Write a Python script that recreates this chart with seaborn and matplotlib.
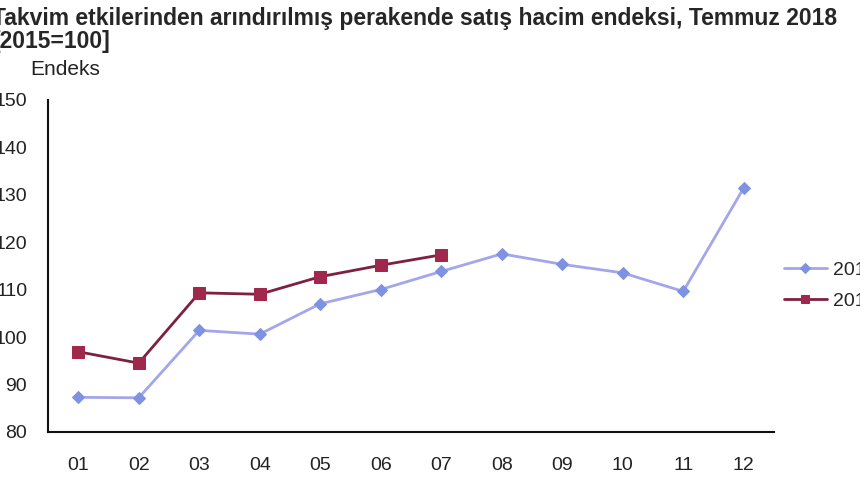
import matplotlib
matplotlib.use("Agg")
import matplotlib.pyplot as plt
import numpy as np
import pandas as pd
import seaborn as sns

months = ['01', '02', '03', '04', '05', '06', '07', '08', '09', '10', '11', '12']
values_2017 = [87.3, 87.2, 101.4, 100.6, 107.0, 110.0, 113.8, 117.5, 115.3, 113.5, 109.6, 131.4]
values_2018 = [96.9, 94.5, 109.3, 109.0, 112.7, 115.1, 117.3]

df = pd.concat([
    pd.DataFrame({'Ay': months, 'Endeks': values_2017, 'Yil': '2017'}),
    pd.DataFrame({'Ay': months[:len(values_2018)], 'Endeks': values_2018, 'Yil': '2018'}),
])

sns.set_style("white")
plt.rcParams['font.family'] = ['Liberation Sans', 'DejaVu Sans']

fig = plt.figure(figsize=(8.6, 4.8), dpi=100)
ax = fig.add_axes([0.0558, 0.1, 0.9 - 0.0558, 0.6927])

sns.lineplot(data=df[df.Yil == '2017'], x='Ay', y='Endeks', ax=ax, color='#A3A6EA',
             marker='D', markersize=6, markerfacecolor='#7F92E2', markeredgecolor='#7F92E2',
             linewidth=2, label='2017', sort=False)
sns.lineplot(data=df[df.Yil == '2018'], x='Ay', y='Endeks', ax=ax, color='#7E2140',
             marker='s', markersize=8, markerfacecolor='#A0284D', markeredgecolor='#A0284D',
             linewidth=2, label='2018', sort=False)

ax.set_xlim(-0.5, 11.5)
ax.set_ylim(80, 150)
ax.set_yticks(range(80, 151, 10))
ax.set_xticks(range(len(months)))
ax.set_xticklabels(months)
ax.set_xticks(np.arange(-0.5, 12, 1), minor=True)
ax.tick_params(axis='x', which='major', length=0, pad=18, labelsize=14, colors='#222222')
ax.tick_params(axis='x', which='minor', length=6, width=1.3, direction='out', color='#111111')
ax.tick_params(axis='y', length=6, width=1.3, direction='out', labelsize=14,
               colors='#222222', pad=9)
ax.tick_params(axis='y', color='#111111')
ax.set_xlabel('')
ax.set_ylabel('')
for s in ['top', 'right']:
    ax.spines[s].set_visible(False)
for s in ['left', 'bottom']:
    ax.spines[s].set_color('#111111')
    ax.spines[s].set_linewidth(1.5)

fig.text(-0.009, 0.948, 'Takvim etkilerinden arındırılmış perakende satış hacim endeksi, Temmuz 2018',
         fontsize=16.5, fontweight='bold', va='baseline', ha='left')
fig.text(-0.009, 0.9, '[2015=100]', fontsize=16.5, fontweight='bold', va='baseline', ha='left')
fig.text(0.035, 0.844, 'Endeks', fontsize=15, color='#222222', va='baseline', ha='left')

ax.legend(loc='center left', bbox_to_anchor=(0.9, 0.405), bbox_transform=fig.transFigure,
          frameon=False, fontsize=14, handlelength=2.2, handletextpad=0.35,
          labelspacing=0.7, borderpad=0, markerscale=0.8)

fig.savefig('out.png', dpi=100)
